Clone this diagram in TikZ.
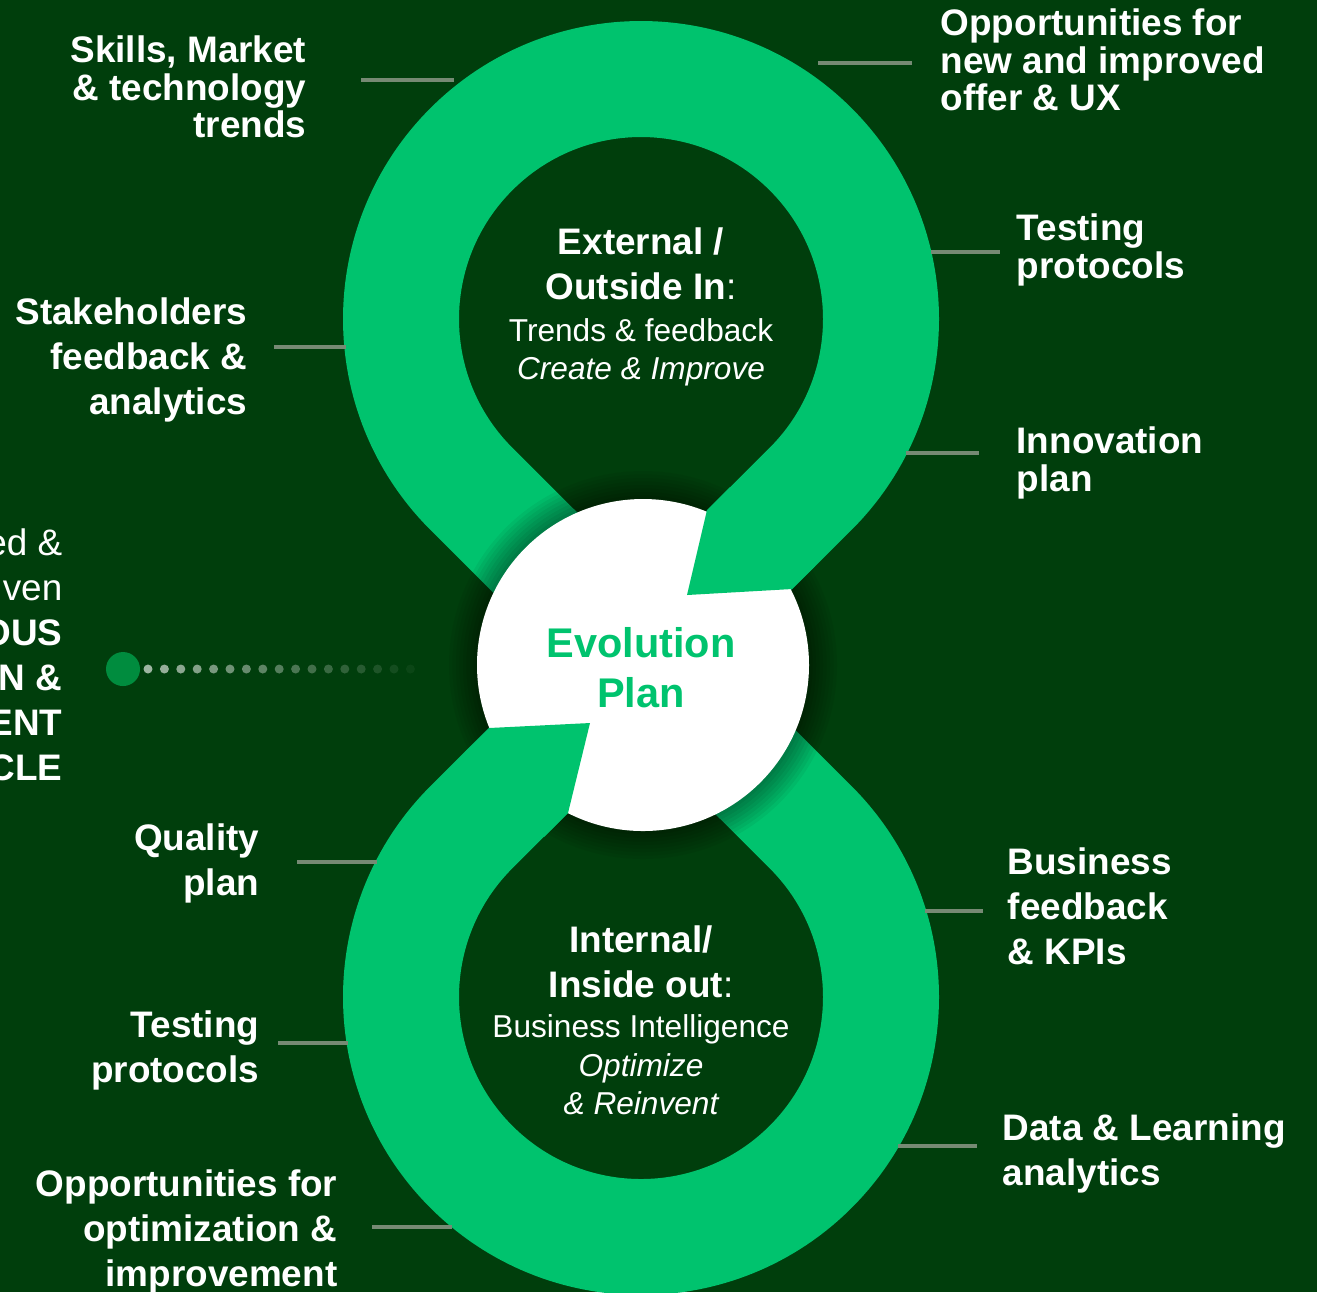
\documentclass[tikz,border=0pt]{standalone}
\usepackage{fontspec}
\setmainfont{Liberation Sans}
\definecolor{bgdark}{RGB}{0,62,12}
\definecolor{ringgreen}{RGB}{0,195,110}
\definecolor{dotgreen}{RGB}{0,140,62}
\definecolor{leadergray}{RGB}{118,138,116}
\newcommand{\smalltxt}{\fontsize{9}{12.8}\selectfont}
\tikzset{
  sidetext/.style={text=white, inner sep=0pt, font=\bfseries\fontsize{10.5}{12.8}\selectfont},
  tightlines/.style={font=\bfseries\fontsize{10.5}{10.6}\selectfont},
  lefttext/.style={sidetext, anchor=east, align=right},
  righttext/.style={sidetext, anchor=west, align=left},
  ringtext/.style={text=white, inner sep=0pt, align=center, font=\fontsize{10.5}{12.8}\selectfont},
  leader/.style={leadergray, line width=0.9pt},
}
\begin{document}
\begin{tikzpicture}
% background
\fill[bgdark] (0,0) rectangle (13.17,-12.92);
\useasboundingbox (0,0) rectangle (13.17,-12.92);

% the figure eight
\coordinate (top) at (6.41,-3.19);
\coordinate (bottom) at (6.41,-9.97);
\coordinate (mid) at (6.41,-6.58);
\draw[ringgreen, line width=1.16cm, line join=round]
  (mid) -- ([shift={(225:2.4)}]top) arc[start angle=225, end angle=-45, radius=2.4] -- (mid)
  -- ([shift={(135:2.4)}]bottom) arc[start angle=135, end angle=405, radius=2.4] -- cycle;

% shadow and centre disc
\coordinate (centre) at (6.43,-6.65);
\foreach \k in {1,...,8}
  \fill[black, opacity=0.05] (centre) circle[radius={1.66+0.035*\k}];
\fill[white] (centre) circle[radius=1.66];
\begin{scope}
  \clip (centre) circle[radius=1.98];
  \fill[ringgreen] (7.07,-5.10) -- (6.87,-5.95) -- (7.92,-5.89) -- (8.52,-5.29) -- (7.67,-4.50) -- cycle;
  \fill[ringgreen] (4.89,-7.28) -- (5.90,-7.23) -- (5.68,-8.13) -- (5.08,-8.73) -- (4.29,-7.88) -- cycle;
\end{scope}
\node[font=\bfseries\fontsize{11.8}{14.2}\selectfont, text=ringgreen, align=center, inner sep=0pt] (evo) at (6.41,-6.68) {Evolution\\ Plan};

% inner texts
\node[ringtext] (outside) at (6.41,-3.07)
  {{\bfseries External /}\\ {\bfseries Outside In}:\\[-0.8pt]
   {\smalltxt Trends \& feedback}\\[-2pt] {\smalltxt\itshape Create \& Improve}};
\node[ringtext] (inside) at (6.41,-10.20)
  {{\bfseries Internal/}\\ {\bfseries Inside out}:\\[-1.4pt]
   {\smalltxt Business Intelligence}\\[-1.7pt] {\smalltxt\itshape Optimize}\\[-2pt] {\smalltxt\itshape \& Reinvent}};

% side labels
\node[lefttext, tightlines] (skills) at (3.07,-0.87) {Skills, Market\\ \& technology\\ trends};
\node[righttext, tightlines] (offer) at (9.40,-0.60) {Opportunities for\\ new and improved\\ offer \& UX};
\node[righttext, tightlines] (testtop) at (10.16,-2.50) {Testing\\ protocols};
\node[righttext, tightlines] (innov) at (10.16,-4.63) {Innovation\\ plan};
\node[lefttext] (stake) at (2.48,-3.60) {Stakeholders\\ feedback \&\\ analytics};
\node[lefttext] (quality) at (2.60,-8.63) {Quality\\ plan};
\node[lefttext] (testbot) at (2.60,-10.50) {Testing\\ protocols};
\node[lefttext] (optim) at (3.38,-12.32) {Opportunities for\\ optimization \&\\ improvement};
\node[righttext] (business) at (10.07,-9.06) {Business\\ feedback\\ \& KPIs};
\node[righttext] (data) at (10.02,-11.53) {Data \& Learning\\ analytics};
\node[lefttext] (cycle) at (0.63,-6.55) {{\mdseries ed \&}\\ {\mdseries ven}\\ OUS\\ N \&\\ ENT\\ CLE};

% leader lines
\coordinate (skillsA) at (3.61,-0.80);   \coordinate (skillsB) at (4.54,-0.80);
\coordinate (offerA) at (8.18,-0.63);    \coordinate (offerB) at (9.12,-0.63);
\coordinate (testtopA) at (9.31,-2.52);  \coordinate (testtopB) at (10.00,-2.52);
\coordinate (innovA) at (9.06,-4.53);    \coordinate (innovB) at (9.79,-4.53);
\coordinate (stakeA) at (2.74,-3.47);    \coordinate (stakeB) at (3.46,-3.47);
\coordinate (qualityA) at (2.97,-8.62);  \coordinate (qualityB) at (3.77,-8.62);
\coordinate (testbotA) at (2.78,-10.43); \coordinate (testbotB) at (3.48,-10.43);
\coordinate (optimA) at (3.72,-12.27);   \coordinate (optimB) at (4.52,-12.27);
\coordinate (businessA) at (9.25,-9.11); \coordinate (businessB) at (9.83,-9.11);
\coordinate (dataA) at (8.98,-11.46);    \coordinate (dataB) at (9.77,-11.46);
\foreach \n in {skills,offer,testtop,innov,stake,quality,testbot,optim,business,data}
  \draw[leader] (\n A) -- (\n B);

% dotted trail
\fill[dotgreen] (1.23,-6.69) circle[radius=0.17];
\foreach \i [evaluate=\i as \op using 0.62-0.036*\i] in {0,...,16}
  \fill[white, opacity=\op] ({1.48+0.164*\i},-6.69) circle[radius=0.045];
\end{tikzpicture}
\end{document}
